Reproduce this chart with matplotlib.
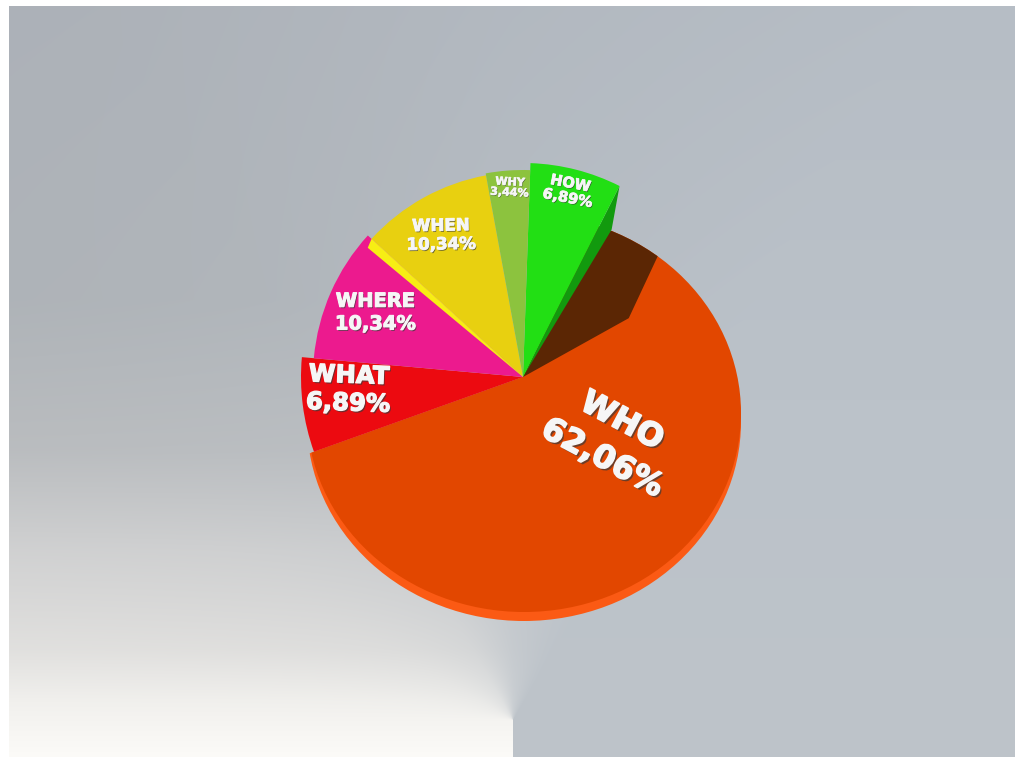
import numpy as np
import matplotlib.pyplot as plt
import matplotlib.patheffects as pe
from matplotlib.patches import Ellipse, Polygon

# question words and their share of answers (%)
labels = ['HOW', 'WHO', 'WHAT', 'WHERE', 'WHEN', 'WHY']
shares = [6.89, 62.06, 6.89, 10.34, 10.34, 3.44]
colors = ['#22df14', '#e24700', '#ec0a10', '#ec1a8e', '#e8d010', '#8cc33e']

# per-slice look: top-face radius, label placement and lettering
slice_radius = [214, 230, 222, 210, 205, 207]
label_dist = [192, 109, 175, 161, 164, 190]
label_turn = [0.5, 13.2, -3.2, 0.2, 1.0, -0.2]
label_size = [10.5, 23, 17.5, 14, 12, 8]
label_rot = [-11, -28, -2, 0, 1, -3]
label_gap = [1.0, 1.45, 1.2, 1.25, 1.05, 1.05]

W, H = 1015, 757
cx, cy = 523, H - 377   # common apex of the slices


def polar(theta, r):
    t = np.radians(theta)
    return cx + r * np.cos(t), cy + r * np.sin(t)


fig = plt.figure(figsize=(W / 100, H / 100), dpi=100, facecolor='white')
ax = fig.add_axes([0, 0, 1, 1])

# studio backdrop: a light floor on the left fading up into grey,
# a cooler grey wall on the right, meeting at a point near the bottom
xs = np.arange(9, W) + 0.5
ys = np.arange(6, H) + 0.5
X, Y = np.meshgrid(xs, ys)
phi = np.degrees(np.arctan2(-(Y - 720), X - 513))
ang = (phi + 90) % 360 - 90

left_y = [0, 300, 450, 550, 650, 700, 757]
left_rgb = np.array([[168, 172, 178], [172, 176, 180], [186, 188, 190],
                     [210, 210, 210], [226, 225, 223], [241, 240, 237],
                     [252, 251, 248]]) / 255.0
right_y = [0, 400, 757]
right_rgb = np.array([[182, 189, 197], [187, 194, 201], [190, 196, 202]]) / 255.0
mix_a = [-90, 60, 90, 120, 150, 170, 180, 270]
mix_w = [1.0, 1.0, 0.75, 0.35, 0.14, 0.04, 0.0, 0.0]

w_right = np.interp(ang, mix_a, mix_w)[..., None]
left = np.stack([np.interp(Y, left_y, left_rgb[:, k]) for k in range(3)], axis=-1)
right = np.stack([np.interp(Y, right_y, right_rgb[:, k]) for k in range(3)], axis=-1)
bg = left * (1 - w_right) + right * w_right
ax.imshow(bg, extent=(9, W, 0, H - 6), origin='upper', zorder=0,
          interpolation='bilinear')

wedges, _ = ax.pie(shares, colors=colors, startangle=88, counterclock=False,
                   radius=212, center=(cx, cy),
                   wedgeprops=dict(linewidth=0, zorder=3))
for w, r in zip(wedges, slice_radius):
    w.set_radius(r)

how, who, what, where, when, why = wedges

# the big slice sits lower, so it is seen in perspective as an ellipse
who.set_radius(420)
who.set_visible(False)
ell_c = (524, H - 413)
rim = Ellipse((ell_c[0], ell_c[1] - 9), 434, 398, color='#fb5a14', lw=0, zorder=1.5)
ax.add_patch(rim)
rim.set_clip_path(who)
top = Ellipse(ell_c, 434, 398, color=colors[1], lw=0, zorder=2)
ax.add_patch(top)
top.set_clip_path(who)

# shadow thrown by the raised HOW slice
t1 = how.theta1
shade = Polygon([(cx, cy), polar(t1 + 1, 240), polar(t1 - 14, 240),
                 polar(t1 - 21.3, 181), polar(t1 - 34.1, 121)],
                closed=True, color='#5b2604', lw=0, zorder=2.5)
ax.add_patch(shade)
shade.set_clip_path(top)

# visible side walls of the raised slices
how_side = Polygon([(cx, cy), polar(t1, slice_radius[0]), polar(t1 - 4.2, 172)],
                   closed=True, color='#129a0e', lw=0, zorder=2.8)
ax.add_patch(how_side)
t2 = when.theta2
when_side = Polygon([(cx, cy), polar(t2, slice_radius[4]),
                     polar(t2 + 2.6, slice_radius[4] - 3)],
                    closed=True, color='#f7ee14', lw=0, zorder=3.5)
ax.add_patch(when_side)

for w, lab, v, d, turn, fs, rot, gap in zip(wedges, labels, shares, label_dist,
                                            label_turn, label_size, label_rot, label_gap):
    mid = (w.theta1 + w.theta2) / 2 + turn
    x, y = polar(mid, d)
    txt = lab + '\n' + f'{v:.2f}'.replace('.', ',') + '%'
    # raised white lettering: thicker stroke and deeper shadow for bigger text
    fx = [pe.SimplePatchShadow(offset=(fs * 0.06, -fs * 0.075),
                               shadow_rgbFace='#3a3a3a', alpha=0.7),
          pe.Stroke(linewidth=fs * 0.055, foreground='#f6f6f6'),
          pe.Normal()]
    ax.text(x, y, txt, ha='center', va='center', rotation=rot,
            rotation_mode='anchor', fontsize=fs, fontweight='bold',
            color='#f6f6f6', linespacing=gap, family='DejaVu Sans',
            path_effects=fx, zorder=6)

ax.set_xlim(0, W)
ax.set_ylim(0, H)
ax.axis('off')

fig.savefig('out.png', dpi=100, facecolor='white')
